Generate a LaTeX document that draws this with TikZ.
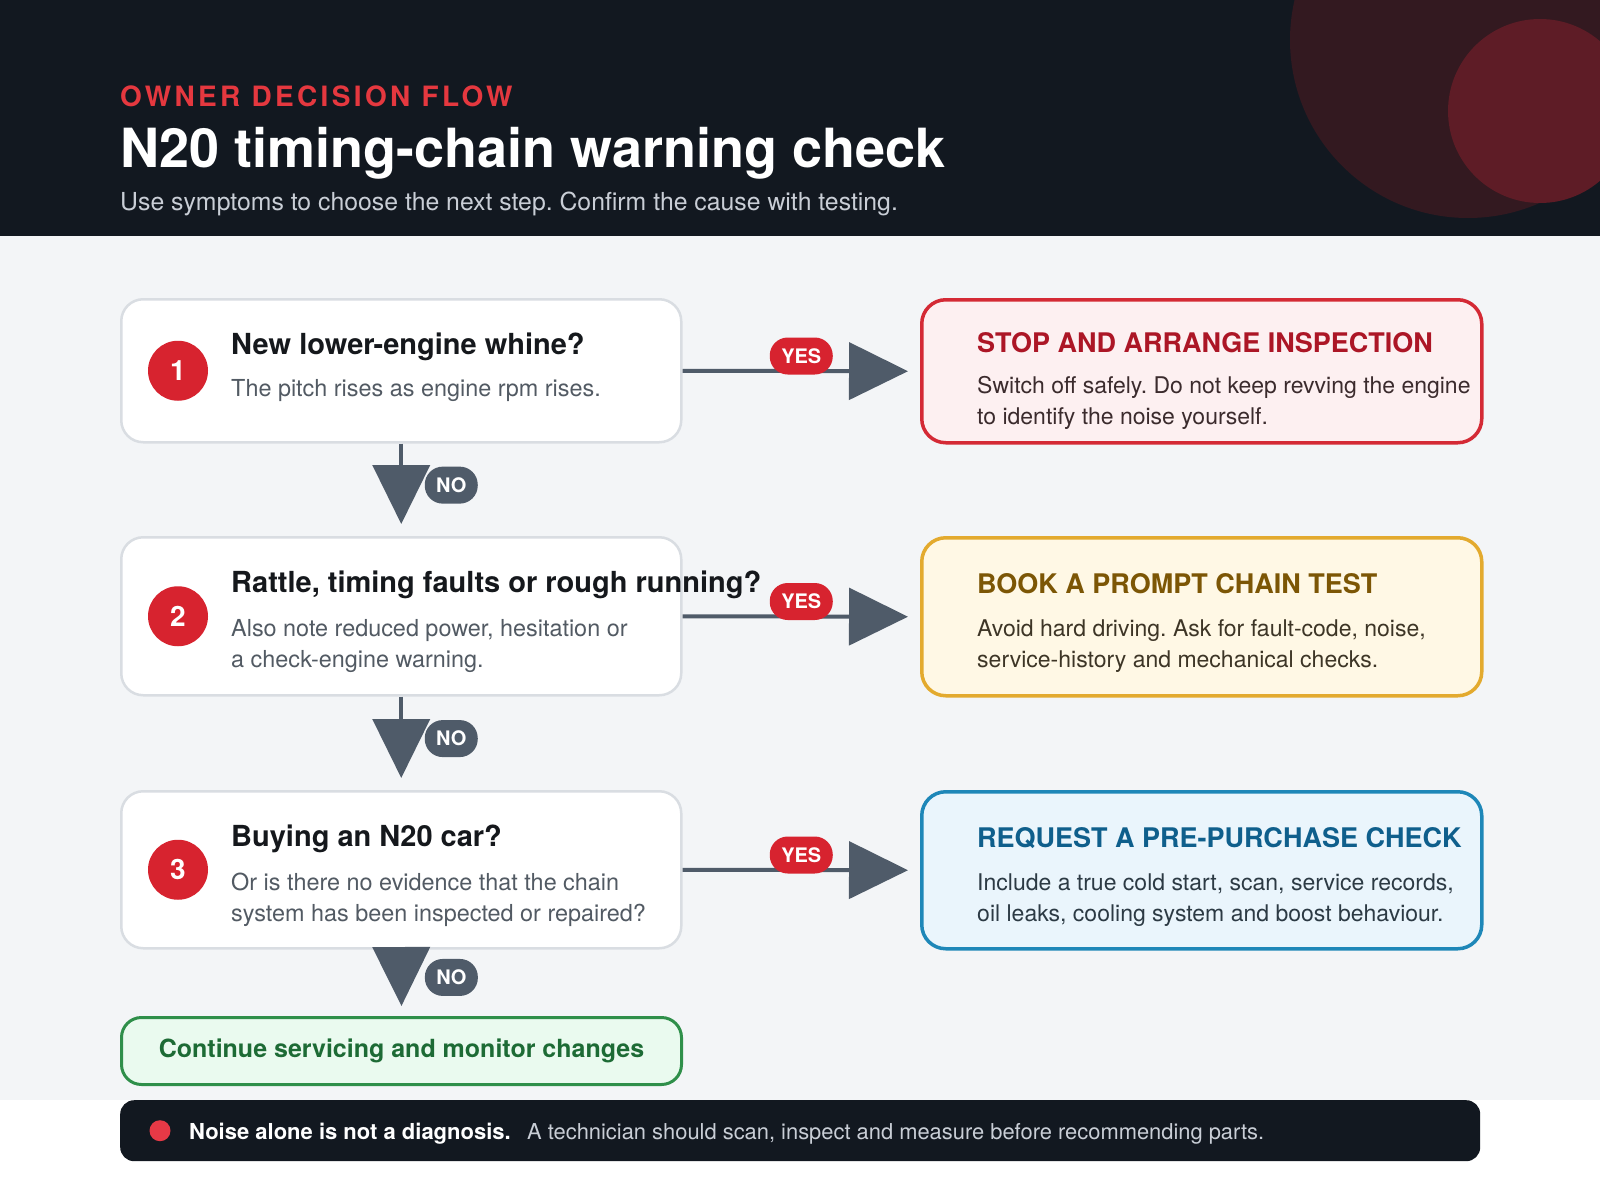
\documentclass[tikz,border=0pt]{standalone}
\usepackage{fontspec}
\setmainfont{TeX Gyre Heros}
\usetikzlibrary{arrows.meta,positioning}
\frenchspacing

\definecolor{headbg}{HTML}{121820}
\definecolor{pagebg}{HTML}{F3F5F7}
\definecolor{glowa}{HTML}{331920}
\definecolor{glowb}{HTML}{5E1C26}
\definecolor{kicker}{HTML}{E5383F}
\definecolor{subhead}{HTML}{C9CED6}
\definecolor{qedge}{HTML}{D9DDE2}
\definecolor{ink}{HTML}{15181C}
\definecolor{note}{HTML}{525A63}
\definecolor{numred}{HTML}{D7232F}
\definecolor{slate}{HTML}{4F5B69}
\definecolor{stopline}{HTML}{D42A35}
\definecolor{stopfill}{HTML}{FDF0F1}
\definecolor{stopink}{HTML}{AC1626}
\definecolor{stopnote}{HTML}{3B2B2D}
\definecolor{bookline}{HTML}{E3AA2E}
\definecolor{bookfill}{HTML}{FFF8E5}
\definecolor{bookink}{HTML}{7C5605}
\definecolor{booknote}{HTML}{3D3526}
\definecolor{reqline}{HTML}{1E87B8}
\definecolor{reqfill}{HTML}{EAF5FC}
\definecolor{reqink}{HTML}{0F5F8C}
\definecolor{reqnote}{HTML}{2C3A44}
\definecolor{goline}{HTML}{2F8F4A}
\definecolor{gofill}{HTML}{EAFAEF}
\definecolor{goink}{HTML}{1D6B35}
\definecolor{dotred}{HTML}{E63946}

\newcommand\sz[2]{\fontsize{#1}{#2}\selectfont}

\tikzset{
	% question boxes on the left
	qbox/.style={draw=qedge, line width=2.5pt, fill=white, rounded corners=22pt,
		minimum width=560pt, anchor=north west, inner sep=0pt},
	% answer boxes on the right
	abox/.style={line width=3.5pt, rounded corners=24pt, minimum width=560pt,
		anchor=north west, inner sep=0pt},
	numdot/.style={circle, fill=numred, text=white, minimum size=60pt, inner sep=0pt,
		font=\sz{28}{30}\bfseries},
	qtitle/.style={anchor=base west, inner sep=0pt, text=ink, font=\sz{29}{34}\bfseries},
	% notes: base is the last line
	qnote/.style={anchor=base west, inner sep=0pt, text=note, align=left, font=\sz{23.4}{31}},
	atitle/.style={anchor=base west, inner sep=0pt, font=\sz{27}{31}\bfseries},
	anote/.style={anchor=base west, inner sep=0pt, align=left, font=\sz{23}{31}},
	% connectors
	flow/.style={draw=slate, line width=4pt, -{Triangle[length=59pt,width=57pt]}, shorten >=12pt},
	yespill/.style={fill=numred, text=white, rounded corners=18pt, minimum width=63pt,
		minimum height=37pt, inner sep=0pt, font=\sz{20}{22}\bfseries},
	nopill/.style={yespill, fill=slate, minimum width=53pt},
}

\begin{document}
\begin{tikzpicture}[x=1pt,y=-1pt]
\useasboundingbox (0,0) rectangle (1600,1180);
% backgrounds
\fill[white] (0,0) rectangle (1600,1180);
\fill[pagebg] (0,236) rectangle (1600,1100);
\fill[headbg] (0,0) rectangle (1600,236);
\begin{scope}
	\clip (0,0) rectangle (1600,236);
	\fill[glowa] (1468,40) circle (178pt);
	\fill[glowb] (1540,111) circle (92pt);
\end{scope}

% header
\node[anchor=base west, inner sep=0pt, text=kicker,
	font=\sz{28}{30}\bfseries\addfontfeatures{LetterSpace=12}] (kick) at (120,107) {OWNER DECISION FLOW};
\node[anchor=base west, inner sep=0pt, text=white, font=\sz{54}{60}\bfseries] (title) at (120,167) {N20 timing-chain warning check};
\node[anchor=base west, inner sep=0pt, text=subhead, font=\sz{24.8}{30}] (sub) at (120,210) {Use symptoms to choose the next step. Confirm the cause with testing.};

% questions
\node[qbox, minimum height=143pt] (q1) at (120,298) {};
\node[qbox, minimum height=158pt] (q2) at (120,536) {};
\node[qbox, minimum height=157pt] (q3) at (120,790) {};
\node[numdot] (n1) at ([xshift=58pt]q1.west) {1};
\node[numdot] (n2) at ([xshift=58pt]q2.west) {2};
\node[numdot] (n3) at ([xshift=58pt]q3.west) {3};
\node[qtitle] (q1title) at ([xshift=111pt,yshift=-56pt]q1.north west) {New lower-engine whine?};
\node[qnote] (q1note) at ([xshift=111pt,yshift=-98pt]q1.north west) {The pitch rises as engine rpm rises.};
\node[qtitle] (q2title) at ([xshift=111pt,yshift=-56pt]q2.north west) {Rattle, timing faults or rough running?};
\node[qnote] (q2note) at ([xshift=111pt,yshift=-131pt]q2.north west) {Also note reduced power, hesitation or\\a check-engine warning.};
\node[qtitle] (q3title) at ([xshift=111pt,yshift=-56pt]q3.north west) {Buying an N20 car?};
\node[qnote] (q3note) at ([xshift=111pt,yshift=-131pt]q3.north west) {Or is there no evidence that the chain\\system has been inspected or repaired?};

% answers
\node[abox, draw=stopline, fill=stopfill, minimum height=143pt] (r1) at (920,298) {};
\node[abox, draw=bookline, fill=bookfill, minimum height=158pt] (r2) at (920,536) {};
\node[abox, draw=reqline, fill=reqfill, minimum height=157pt] (r3) at (920,790) {};
\node[atitle, text=stopink] (r1title) at ([xshift=57pt,yshift=-54pt]r1.north west) {STOP AND ARRANGE INSPECTION};
\node[anote, text=stopnote] (r1note) at ([xshift=57pt,yshift=-126pt]r1.north west) {Switch off safely. Do not keep revving the engine\\to identify the noise yourself.};
\node[atitle, text=bookink] (r2title) at ([xshift=57pt,yshift=-57pt]r2.north west) {BOOK A PROMPT CHAIN TEST};
\node[anote, text=booknote] (r2note) at ([xshift=57pt,yshift=-131pt]r2.north west) {Avoid hard driving. Ask for fault-code, noise,\\service-history and mechanical checks.};
\node[atitle, text=reqink] (r3title) at ([xshift=57pt,yshift=-57pt]r3.north west) {REQUEST A PRE-PURCHASE CHECK};
\node[anote, text=reqnote] (r3note) at ([xshift=57pt,yshift=-131pt]r3.north west) {Include a true cold start, scan, service records,\\oil leaks, cooling system and boost behaviour.};

\node[draw=goline, fill=gofill, line width=3pt, rounded corners=20pt, minimum width=560pt,
	minimum height=67pt, anchor=north west, text=goink, font=\sz{25}{30}\bfseries] (cont) at (120,1016) {Continue servicing and monitor changes};

% yes / no connectors
\draw[flow] (q1.east) -- (r1.west) node[pos=0.5, yshift=15pt, yespill] (yes1) {YES};
\draw[flow] (q2.east) -- (r2.west) node[pos=0.5, yshift=15pt, yespill] (yes2) {YES};
\draw[flow] (q3.east) -- (r3.west) node[pos=0.5, yshift=15pt, yespill] (yes3) {YES};
\draw[flow] (q1.south) -- (q2.north) node[pos=0.45, xshift=50pt, nopill] (no1) {NO};
\draw[flow] (q2.south) -- (q3.north) node[pos=0.45, xshift=50pt, nopill] (no2) {NO};
\draw[flow, shorten >=10pt] (q3.south) -- (cont.north) node[pos=0.42, xshift=50pt, nopill] (no3) {NO};

% footer note
\node[fill=headbg, rounded corners=14pt, minimum width=1360pt, minimum height=61pt,
	anchor=north west, inner sep=0pt] (foot) at (120,1100) {};
\node[circle, fill=dotred, minimum size=21pt, inner sep=0pt] (footdot) at ([xshift=40pt]foot.west) {};
\node[anchor=base west, inner sep=0pt, text=white, font=\sz{22}{26}\bfseries] (footbold) at (189,1139) {Noise alone is not a diagnosis.};
\node[anchor=base west, inner sep=0pt, text=subhead, font=\sz{21.9}{26}] (footrest) at ([xshift=16pt]footbold.base east) {A technician should scan, inspect and measure before recommending parts.};
\end{tikzpicture}
\end{document}
